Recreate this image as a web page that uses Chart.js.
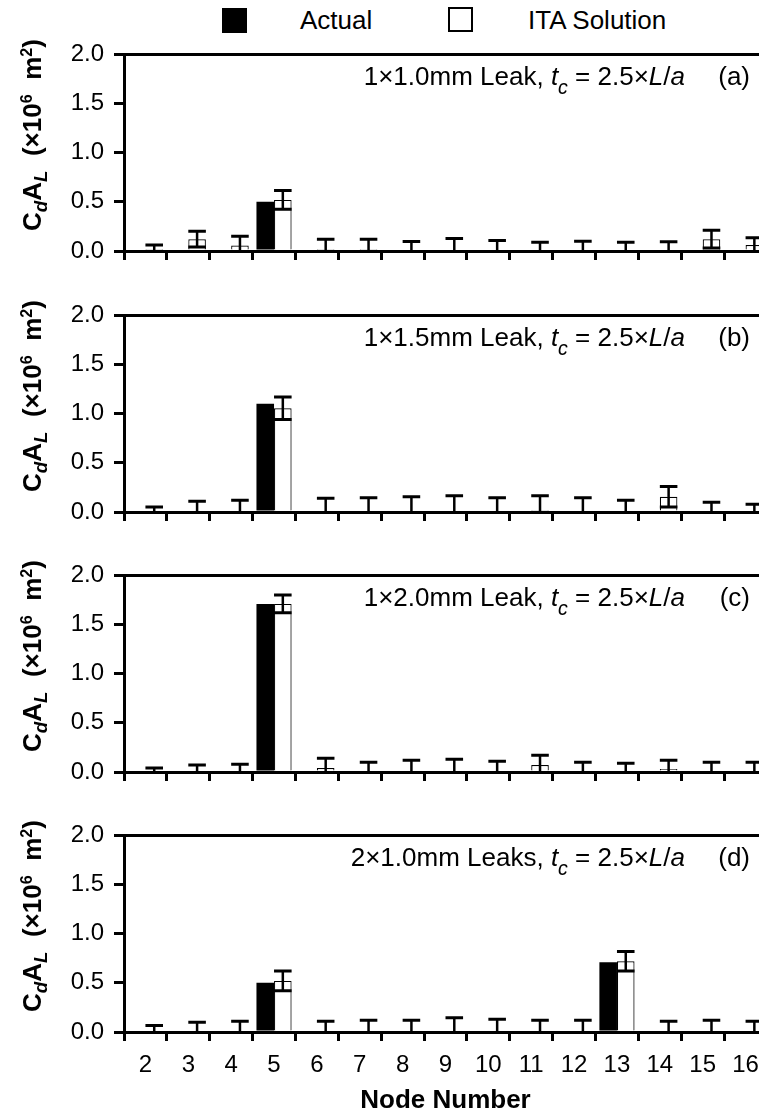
<!DOCTYPE html>
<html>
<head>
<meta charset="utf-8">
<script src="https://cdn.jsdelivr.net/npm/chart.js@4.4.0/dist/chart.umd.min.js"></script>
<style>
html, body { margin: 0; padding: 0; background: #fff; }
body { width: 759px; height: 1120px; overflow: hidden; position: relative;
       font-family: "Liberation Sans", Arial, sans-serif; color: #000; }
.panel { position: absolute; left: 0; }
.panel canvas { display: block; }
.ytitle { position: absolute; width: 300px; height: 40px; line-height: 40px; text-align: center;
          font-weight: bold; font-size: 26px; transform: rotate(-90deg); white-space: nowrap; }
.ytitle sub { font-size: 0.72em; position: relative; top: 0.3em; vertical-align: baseline; }
.ytitle sup { font-size: 0.62em; position: relative; top: -0.55em; vertical-align: baseline; }
.note { position: absolute; font-size: 26px; line-height: 30px; white-space: nowrap; }
.note sub { font-size: 0.75em; position: relative; top: 0.45em; vertical-align: baseline; }
.legend { position: absolute; top: 0; left: 0; font-size: 26px; line-height: 30px; }
.box { position: absolute; width: 25px; height: 25px; box-sizing: border-box; }
</style>
</head>
<body>

<div class="legend">
  <div class="box" style="left:222px; top:8px; background:#000;"></div>
  <div style="position:absolute; left:300px; top:5px; white-space:nowrap;">Actual</div>
  <div class="box" style="left:448px; top:7px; border:2px solid #000; background:#fff;"></div>
  <div style="position:absolute; left:528px; top:5px; white-space:nowrap;">ITA Solution</div>
</div>

<script>
// node numbers on the x axis
var nodes = ['2','3','4','5','6','7','8','9','10','11','12','13','14','15','16'];

// (a) 1x1.0mm leak
var actualA = [0, 0, 0, 0.50, 0, 0, 0, 0, 0, 0, 0, 0, 0, 0, 0];
var itaA    = [0.01, 0.12, 0.055, 0.52, 0.02, 0.02, 0, 0, 0, 0, 0.015, 0, 0, 0.12, 0.06];
var errA    = [0.05, 0.08, 0.095, 0.095, 0.10, 0.10, 0.097, 0.126, 0.107, 0.09, 0.085, 0.09, 0.094, 0.09, 0.076];

// (b) 1x1.5mm leak
var actualB = [0, 0, 0, 1.10, 0, 0, 0, 0, 0, 0, 0, 0, 0, 0, 0];
var itaB    = [0, 0, 0, 1.055, 0, 0, 0, 0, 0, 0.02, 0, 0, 0.155, 0, 0];
var errB    = [0.05, 0.11, 0.12, 0.115, 0.14, 0.145, 0.155, 0.165, 0.145, 0.145, 0.145, 0.12, 0.105, 0.10, 0.08];

// (c) 1x2.0mm leak
var actualC = [0, 0, 0, 1.71, 0, 0, 0, 0, 0, 0, 0, 0, 0, 0, 0];
var itaC    = [0, 0, 0, 1.71, 0.04, 0, 0, 0, 0, 0.07, 0, 0, 0.03, 0, 0];
var errC    = [0.04, 0.07, 0.08, 0.09, 0.10, 0.10, 0.12, 0.13, 0.11, 0.10, 0.10, 0.09, 0.09, 0.10, 0.10];

// (d) 2x1.0mm leaks
var actualD = [0, 0, 0, 0.50, 0, 0, 0, 0, 0, 0, 0, 0.71, 0, 0, 0];
var itaD    = [0, 0, 0, 0.52, 0, 0, 0, 0, 0, 0, 0, 0.72, 0, 0, 0];
var errD    = [0.065, 0.10, 0.11, 0.10, 0.11, 0.12, 0.12, 0.145, 0.13, 0.12, 0.12, 0.10, 0.11, 0.12, 0.11];

var yTicks = [0, 0.5, 1.0, 1.5, 2.0];

var panels = [
  { top: 45,  actual: actualA, ita: itaA, err: errA, leak: '1\u00d71.0mm Leak', tag: '(a)' },
  { top: 306, actual: actualB, ita: itaB, err: errB, leak: '1\u00d71.5mm Leak', tag: '(b)' },
  { top: 566, actual: actualC, ita: itaC, err: errC, leak: '1\u00d72.0mm Leak', tag: '(c)' },
  { top: 826, actual: actualD, ita: itaD, err: errD, leak: '2\u00d71.0mm Leaks', tag: '(d)', last: true }
];

// draws the +/- error whiskers on the ITA bars
var errorBars = {
  id: 'errorBars',
  afterDatasetsDraw: function (chart) {
    var meta = chart.getDatasetMeta(1);
    var ds = chart.data.datasets[1];
    var y = chart.scales.y;
    var ctx = chart.ctx;
    var area = chart.chartArea;
    ctx.save();
    ctx.beginPath();
    ctx.rect(area.left, area.top - 5, area.right - area.left, area.bottom - area.top + 4);
    ctx.clip();
    ctx.strokeStyle = '#000';
    meta.data.forEach(function (bar, i) {
      var v = ds.data[i], e = ds.errors[i];
      var yt = y.getPixelForValue(v + e), yb = y.getPixelForValue(v - e);
      var half = bar.width / 2;
      ctx.lineWidth = 2.5;
      ctx.beginPath();
      ctx.moveTo(bar.x, yt); ctx.lineTo(bar.x, yb);
      ctx.stroke();
      ctx.lineWidth = 3;
      ctx.beginPath();
      ctx.moveTo(bar.x - half, yt); ctx.lineTo(bar.x + half, yt);
      ctx.moveTo(bar.x - half, yb); ctx.lineTo(bar.x + half, yb);
      ctx.stroke();
    });
    ctx.restore();
  }
};

panels.forEach(function (p) {
  var padTop = 15;
  var plotH = 206;
  var xh = p.last ? 87 : 39;
  var h = padTop + plotH + xh;
  var wrap = document.createElement('div');
  wrap.className = 'panel';
  wrap.style.top = (p.top - padTop) + 'px';
  var cv = document.createElement('canvas');
  cv.width = 770; cv.height = h;
  wrap.appendChild(cv);
  document.body.appendChild(wrap);

  var yt = document.createElement('div');
  yt.className = 'ytitle';
  yt.style.left = (32 - 150) + 'px';
  yt.style.top = (p.top + 90 - 20) + 'px';
  yt.innerHTML = 'C<sub><i>d</i></sub>A<sub><i>L</i></sub>&nbsp; (\u00d710<sup>6</sup>&nbsp; m<sup>2</sup>)';
  document.body.appendChild(yt);

  var note = document.createElement('div');
  note.className = 'note';
  note.style.right = '74px';
  note.style.top = (p.top + 16) + 'px';
  note.innerHTML = p.leak + ', <i>t</i><sub><i>c</i></sub> = 2.5\u00d7<i>L</i>/<i>a</i>';
  document.body.appendChild(note);

  var tag = document.createElement('div');
  tag.className = 'note';
  tag.style.right = '9px';
  tag.style.top = (p.top + 16) + 'px';
  tag.textContent = p.tag;
  document.body.appendChild(tag);

  new Chart(cv, {
    type: 'bar',
    data: {
      labels: nodes,
      datasets: [
        { label: 'Actual', data: p.actual, backgroundColor: '#000', borderColor: '#000', borderWidth: 0 },
        { label: 'ITA Solution', data: p.ita, errors: p.err, backgroundColor: '#fff', borderColor: '#000', borderWidth: 1.2 }
      ]
    },
    options: {
      responsive: false,
      animation: false,
      categoryPercentage: 0.82,
      barPercentage: 1.0,
      layout: { padding: { top: padTop, right: 3, left: 0, bottom: 0 } },
      plugins: { legend: { display: false }, tooltip: { enabled: false } },
      scales: {
        x: {
          offset: true,
          grid: { offset: true, drawOnChartArea: false, tickLength: 9, tickWidth: 3, tickColor: '#000' },
          border: { display: true, color: '#000', width: 3, z: 1 },
          ticks: {
            color: p.last ? '#000' : 'rgba(0,0,0,0)',
            font: { family: 'Liberation Sans', size: 24 },
            padding: 10, maxRotation: 0, autoSkip: false
          },
          title: {
            display: !!p.last, text: 'Node Number', color: '#000',
            font: { family: 'Liberation Sans', size: 26, weight: 'bold' },
            padding: { top: 0, bottom: 3 }
          },
          afterFit: function (s) { s.height = xh; }
        },
        y: {
          min: 0, max: 2,
          afterBuildTicks: function (s) { s.ticks = yTicks.map(function (v) { return { value: v }; }); },
          grid: {
            drawOnChartArea: true, tickLength: 10, tickWidth: 3, tickColor: '#000',
            lineWidth: 3,
            color: function (c) { return c.tick && c.tick.value === 2 ? '#000' : 'rgba(0,0,0,0)'; }
          },
          border: { display: true, color: '#000', width: 3, z: 1 },
          ticks: {
            color: '#000', padding: 10,
            font: { family: 'Liberation Sans', size: 24 },
            callback: function (v) { return Number(v).toFixed(1); }
          },
          afterFit: function (s) { s.width = 124; }
        }
      }
    },
    plugins: [errorBars]
  });
});
</script>
</body>
</html>
